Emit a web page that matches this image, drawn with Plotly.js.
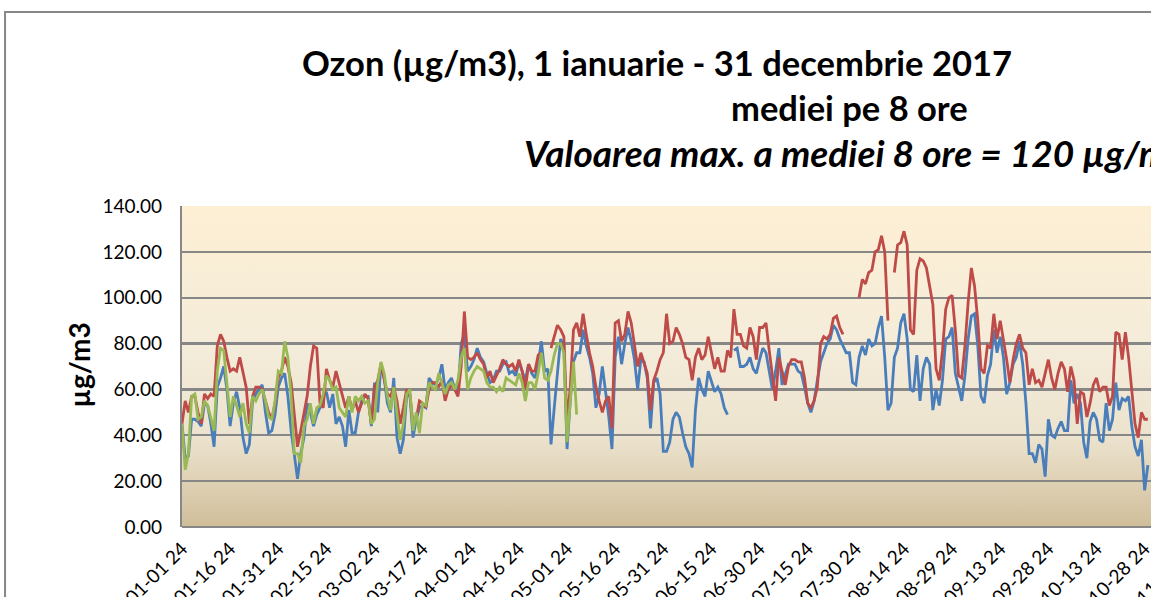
<!DOCTYPE html>
<html>
<head>
<meta charset="utf-8">
<script src="https://cdn.plot.ly/plotly-3.0.1.min.js"></script>
<style>
  html, body { margin: 0; padding: 0; background: #fff; overflow: hidden; }
  #chart { width: 1400px; height: 597px; }
</style>
</head>
<body>
<div id="chart"></div>
<script>
// daily categories for 2017 (hour 24 = 8h mean ending at midnight)
const days = [];
for (let i = 0; i < 365; i++) {
  const d = new Date(Date.UTC(2017, 0, 1 + i));
  days.push(d.toISOString().slice(0, 10) + ' 24');
}
const tickDays = days.filter((_, i) => i % 15 === 0);

// station 1 (blue)
const blueVals = [
  45, 30, 31, 47, 47, 46, 44, 54, 53, 45,
  35, 61, 65, 70, 60, 44, 54, 59, 52, 39,
  32, 36, 55, 58, 60, 62, 50, 41, 42, 49,
  61, 65, 67, 57, 42, 31, 21, 32, 39, 54,
  50, 44, 49, 52, 57, 59, 52, 58, 45, 48,
  44, 35, 51, 41, 41, 50, 55, 57, 57, 44,
  63, 50, 71, 65, 54, 50, 65, 39, 32, 38,
  57, 58, 39, 47, 52, 53, 52, 65, 63, 62,
  65, 71, 60, 63, 65, 60, 58, 80, 84, 68,
  70, 73, 78, 74, 72, 67, 63, 64, 68, 68,
  71, 72, 67, 68, 66, 72, 68, 64, 71, 67,
  65, 71, 81, 68, 69, 36, 52, 67, 82, 79,
  34, 55, 72, 76, 76, 86, 79, 74, 67, 52,
  58, 70, 60, 48, 34, 74, 83, 71, 80, 87,
  81, 73, 60, 73, 72, 65, 43, 63, 65, 58,
  33, 33, 37, 47, 50, 48, 41, 35, 32, 26,
  51, 65, 60, 57, 68, 63, 59, 61, 58, 52,
  49, null, 77, 78, 70, 70, 71, 74, 69, 67,
  73, 78, 76, 68, 60, 68, 78, 62, 67, 71,
  71, 71, 68, 67, 61, 54, 50, 55, 64, 72,
  76, 80, 82, 88, 86, 82, 79, 76, 76, 63,
  62, 74, 79, 75, 82, 79, 80, 87, 92, 74,
  51, 54, 74, 78, 89, 93, 82, 60, 59, 75,
  55, 69, 74, 71, 51, 60, 53, 64, 82, 83,
  87, 67, 61, 55, 66, 82, 92, 93, 79, 57,
  54, 66, 71, 86, 76, 83, 74, 58, 63, 71,
  74, 81, 71, 54, 32, 32, 28, 36, 34, 22,
  47, 40, 39, 43, 46, 42, 42, 64, 54, 58,
  54, 37, 30, 46, 50, 47, 38, 37, 54, 42,
  47, 63, 51, 56, 55, 57, 44, 35, 31, 38,
  16, 27
];

// station 2 (red)
const redVals = [
  45, 55, 50, 57, 57, 50, 45, 58, 56, 58,
  57, 79, 84, 81, 74, 68, 69, 68, 74, 68,
  61, 45, 57, 61, 61, 60, 55, 50, 47, 54,
  65, 68, 74, 70, 63, 50, 35, 42, 50, 57,
  70, 79, 78, 54, 52, 69, 64, 61, 68, 63,
  57, 52, 57, 51, 55, 50, 54, 58, 56, 45,
  61, 64, 71, 65, 58, 57, 61, 55, 45, 52,
  60, 58, 45, 47, 55, 54, 52, 60, 63, 63,
  61, 64, 55, 60, 62, 60, 57, 70, 94, 74,
  73, 74, 76, 73, 71, 65, 68, 63, 66, 69,
  73, 71, 70, 71, 68, 73, 68, 60, 71, 68,
  68, 75, 76, null, null, 78, 83, 88, 86, 83,
  45, 61, 86, 89, 83, 93, 84, 76, 70, 61,
  55, 50, 55, 57, 43, 89, 90, 81, 84, 94,
  89, 80, 70, 76, 71, 67, 51, 64, 68, 73,
  76, 93, 80, 81, 87, 84, 80, 74, 73, 64,
  74, 78, 73, 75, 83, 76, 69, 74, 68, 68,
  77, 74, 95, 84, 84, 79, 78, 87, 83, 73,
  87, 87, 89, 77, 67, 55, 74, 68, 62, 70,
  73, 73, 72, 72, 65, 54, 52, 55, 61, 80,
  83, 82, 84, 91, 92, 87, 84, null, null, null,
  null, 100, 108, 106, 111, 112, 120, 121, 127, 120,
  90, null, 111, 123, 124, 129, 123, 86, 84, 112,
  117, 116, 113, 105, 97, 69, 64, 77, 95, 100,
  101, 86, 66, 65, 79, 98, 113, 105, 90, 69,
  67, 79, 78, 93, 82, 90, 82, 73, 63, 73,
  80, 84, 78, 76, 62, 69, 63, 64, 61, 67,
  73, 65, 60, 67, 72, 69, 59, 70, 64, 45,
  59, 58, 48, 54, 62, 65, 59, 61, 61, 53,
  57, 85, 84, 73, 85, 74, 60, 45, 39, 50,
  47, 47
];

// station 3 (green), stops early May
const greenVals = [
  45, 25, 32, 57, 58, 47, 48, 55, 53, 48,
  42, 68, 78, 77, 63, 48, 57, 53, 48, 54,
  45, 41, 57, 55, 58, 60, 55, 48, 47, 55,
  68, 67, 81, 74, 57, 32, 32, 28, 44, 47,
  54, 45, 52, 53, 58, 66, 64, 60, 61, 52,
  50, 48, 57, 50, 57, 55, 57, 54, 55, 45,
  47, 63, 72, 67, 57, 51, 61, 48, 38, 45,
  58, 60, 42, 50, 41, 54, 53, 63, 61, 60,
  67, 63, 58, 62, 63, 60, 64, 74, 78, 60,
  65, 68, 70, 69, 68, 63, 61, 61, 59, 61,
  59, 65, 64, 63, 62, 67, 63, 55, 63, 63,
  60, 67, 76, 65, 64, 68, 75, 80, 80, 76,
  37, 55, 72, 49
];

const lineW = 2.8;
const mk = (vals, color) => ({
  x: days.slice(0, vals.length),
  y: vals,
  type: 'scatter',
  mode: 'lines',
  line: { color: color, width: lineW },
  connectgaps: false,
  hoverinfo: 'x+y'
});

const traces = [
  mk(blueVals, '#4A7EBB'),
  mk(redVals, '#BE4B48'),
  mk(greenVals, '#98B954')
];

// parchment style background of the plot area
const bgSvg = "<svg xmlns='http://www.w3.org/2000/svg' width='10' height='100' preserveAspectRatio='none'>" +
  "<defs><linearGradient id='g' x1='0' y1='0' x2='0' y2='1'>" +
  "<stop offset='0' stop-color='#FDEFD4'/>" +
  "<stop offset='0.45' stop-color='#F4ECDA'/>" +
  "<stop offset='0.72' stop-color='#ECE3CE'/>" +
  "<stop offset='1' stop-color='#D0BE9A'/>" +
  "</linearGradient></defs><rect width='10' height='100' fill='url(#g)'/></svg>";

const font = 'Lato, "Open Sans", sans-serif';

const layout = {
  width: 1400,
  height: 597,
  margin: { l: 182, r: 50, t: 206, b: 70 },
  paper_bgcolor: '#ffffff',
  plot_bgcolor: 'rgba(0,0,0,0)',
  showlegend: false,
  font: { family: font, color: '#000', size: 19 },
  xaxis: {
    type: 'category',
    categoryorder: 'array',
    categoryarray: days,
    range: [0, 364],
    tickmode: 'array',
    tickvals: tickDays,
    ticktext: tickDays,
    tickangle: -45,
    tickfont: { family: font, size: 19 },
    ticklabelstandoff: 6,
    showgrid: false,
    zeroline: false,
    showline: false,
    ticks: ''
  },
  yaxis: {
    range: [0, 140],
    dtick: 20,
    tickformat: '.2f',
    tickfont: { family: font, size: 19 },
    ticklabelstandoff: 14,
    showgrid: true,
    gridcolor: '#878787',
    gridwidth: 2.2,
    zeroline: true,
    zerolinecolor: '#878787',
    zerolinewidth: 2.2,
    showline: true,
    linecolor: '#878787',
    linewidth: 2.2,
    ticks: ''
  },
  images: [{
    source: 'data:image/svg+xml;charset=utf-8,' + encodeURIComponent(bgSvg),
    xref: 'paper', yref: 'paper',
    x: 0, y: 1, sizex: 1, sizey: 1,
    sizing: 'stretch',
    xanchor: 'left', yanchor: 'top',
    layer: 'below'
  }],
  shapes: [{
    // chart area border
    type: 'rect', xref: 'paper', yref: 'paper',
    x0: -0.1515, x1: 1.2, y0: -0.5, y1: 1.604,
    line: { color: '#868686', width: 2 },
    fillcolor: 'rgba(0,0,0,0)',
    layer: 'below'
  }],
  annotations: [
    {
      text: '<b>Ozon (µg/m3), 1 ianuarie - 31 decembrie 2017</b>',
      xref: 'paper', yref: 'paper', x: 0.4067, y: 1.4455,
      xanchor: 'center', yanchor: 'middle', showarrow: false,
      font: { family: font, size: 34.5 }
    },
    {
      text: '<b>mediei pe 8 ore</b>',
      xref: 'paper', yref: 'paper', x: 0.5719, y: 1.3053,
      xanchor: 'center', yanchor: 'middle', showarrow: false,
      font: { family: font, size: 34.5 }
    },
    {
      text: '<b><i>Valoarea max. a mediei 8 ore = 120 µg/m3</i></b>',
      xref: 'paper', yref: 'paper', x: 0.2911, y: 1.1682,
      xanchor: 'left', yanchor: 'middle', showarrow: false,
      font: { family: font, size: 37 }
    },
    {
      text: '<b>µg/m3</b>',
      xref: 'paper', yref: 'paper', x: -0.0885, y: 0.505,
      xanchor: 'center', yanchor: 'middle', showarrow: false,
      textangle: -90,
      font: { family: font, size: 28 }
    }
  ]
};

Plotly.newPlot('chart', traces, layout, { displayModeBar: false, staticPlot: true });
</script>
</body>
</html>
